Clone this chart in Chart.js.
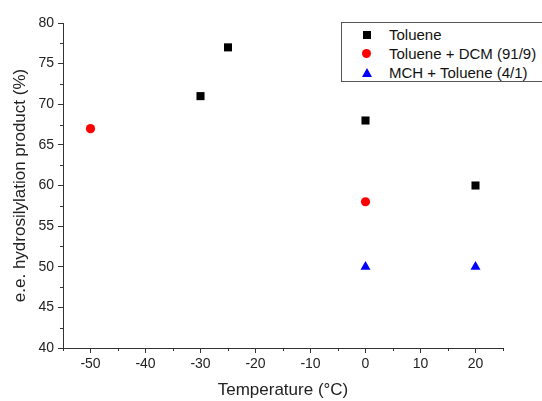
<!DOCTYPE html>
<html>
<head>
<meta charset="utf-8">
<script src="https://cdn.jsdelivr.net/npm/chart.js@4"></script>
<style>
  html, body { margin: 0; padding: 0; background: #fff; }
  #wrap { position: relative; width: 542px; height: 401px; }
  #legend {
    position: absolute; left: 341px; top: 22px; width: 201px; height: 60px;
    border: 1px solid #555; border-right: none; background: #fff; box-sizing: border-box;
    font-family: 'Liberation Sans', Arial, sans-serif; font-size: 15px; color: #111;
  }
  .row { position: absolute; left: 0; height: 19px; line-height: 19px; }
  .row span.t { position: absolute; left: 47px; white-space: nowrap; font-size: 15px; }
  .mk { position: absolute; }
</style>
</head>
<body>
<div id="wrap">
  <canvas id="c" width="542" height="401"></canvas>
  <div id="legend"></div>
</div>
<script>
const seriesNames = ['Toluene', 'Toluene + DCM (91/9)', 'MCH + Toluene (4/1)'];
const tolueneX = [-30, -25, 0, 20];
const tolueneY = [71, 77, 68, 60];
const dcmX = [-50, 0];
const dcmY = [67, 58];
const mchX = [0, 20];
const mchY = [50, 50];

const font = "'Liberation Sans', Arial, sans-serif";
const axisColor = '#333';
const pts = (xs, ys) => xs.map((x, i) => ({ x, y: ys[i] }));

// legend in html
const legendEl = document.getElementById('legend');
const mkHtml = [
  '<div class="mk" style="left:21px;top:6px;width:8px;height:8px;background:#000"></div>',
  '<div class="mk" style="left:20px;top:5px;width:9px;height:9px;border-radius:50%;background:#f00"></div>',
  '<div class="mk" style="left:20px;top:5px;width:0;height:0;border-left:5px solid transparent;border-right:5px solid transparent;border-bottom:9px solid #00f"></div>'
];
seriesNames.forEach((n, i) => {
  legendEl.innerHTML += `<div class="row" style="top:${2 + i * 19}px;width:100%">${mkHtml[i]}<span class="t">${n}</span></div>`;
});

const minorTicks = {
  id: 'minorTicks',
  afterDraw(chart) {
    const ctx = chart.ctx;
    const xs = chart.scales.x, ys = chart.scales.y;
    ctx.save();
    ctx.strokeStyle = axisColor;
    ctx.lineWidth = 1;
    ctx.beginPath();
    xs.ticks.forEach(t => {
      if (t.value % 10 !== 0) {
        const px = Math.round(xs.getPixelForValue(t.value)) + 0.5;
        ctx.moveTo(px, ys.bottom);
        ctx.lineTo(px, ys.bottom + 3);
      }
    });
    ys.ticks.forEach(t => {
      if (t.value % 5 !== 0) {
        const py = Math.round(ys.getPixelForValue(t.value)) + 0.5;
        ctx.moveTo(xs.left, py);
        ctx.lineTo(xs.left - 3, py);
      }
    });
    ctx.stroke();
    ctx.restore();
  }
};

new Chart(document.getElementById('c'), {
  type: 'scatter',
  data: {
    datasets: [
      { label: seriesNames[0], data: pts(tolueneX, tolueneY), pointStyle: 'rect', radius: 5.7,
        backgroundColor: '#000', borderColor: '#000', borderWidth: 0 },
      { label: seriesNames[1], data: pts(dcmX, dcmY), pointStyle: 'circle', radius: 4.6,
        backgroundColor: '#f00', borderColor: '#f00', borderWidth: 0 },
      { label: seriesNames[2], data: pts(mchX, mchY), pointStyle: 'triangle', radius: 5.8,
        backgroundColor: '#00f', borderColor: '#00f', borderWidth: 0 }
    ]
  },
  options: {
    responsive: false, animation: false,
    layout: { padding: { top: 23, right: 39, left: 0, bottom: 0 } },
    plugins: { legend: { display: false }, tooltip: { enabled: false } },
    scales: {
      x: {
        type: 'linear', min: -55, max: 25,
        afterFit: s => { s.height = 53; },
        border: { color: axisColor, width: 1 },
        grid: { drawOnChartArea: false, tickLength: 5,
          tickColor: c => (c.tick && c.tick.value % 10 === 0) ? axisColor : 'transparent' },
        ticks: { stepSize: 5, padding: 3, color: '#222', font: { family: font, size: 14 },
          maxRotation: 0, autoSkip: false,
          callback: v => v % 10 === 0 ? v : '' },
        title: { display: true, text: 'Temperature (°C)', color: '#222',
          font: { family: font, size: 17 }, padding: { top: 0, bottom: 0 } }
      },
      y: {
        min: 40, max: 80,
        afterFit: s => { s.width = 63; },
        border: { color: axisColor, width: 1 },
        grid: { drawOnChartArea: false, tickLength: 5,
          tickColor: c => (c.tick && c.tick.value % 5 === 0) ? axisColor : 'transparent' },
        ticks: { stepSize: 2.5, padding: 4, color: '#222', font: { family: font, size: 14 },
          autoSkip: false,
          callback: v => v % 5 === 0 ? v : '' },
        title: { display: true, text: 'e.e. hydrosilylation product (%)', color: '#222',
          font: { family: font, size: 17 }, padding: { top: 10, bottom: 0 } }
      }
    }
  },
  plugins: [minorTicks]
});
</script>
</body>
</html>
